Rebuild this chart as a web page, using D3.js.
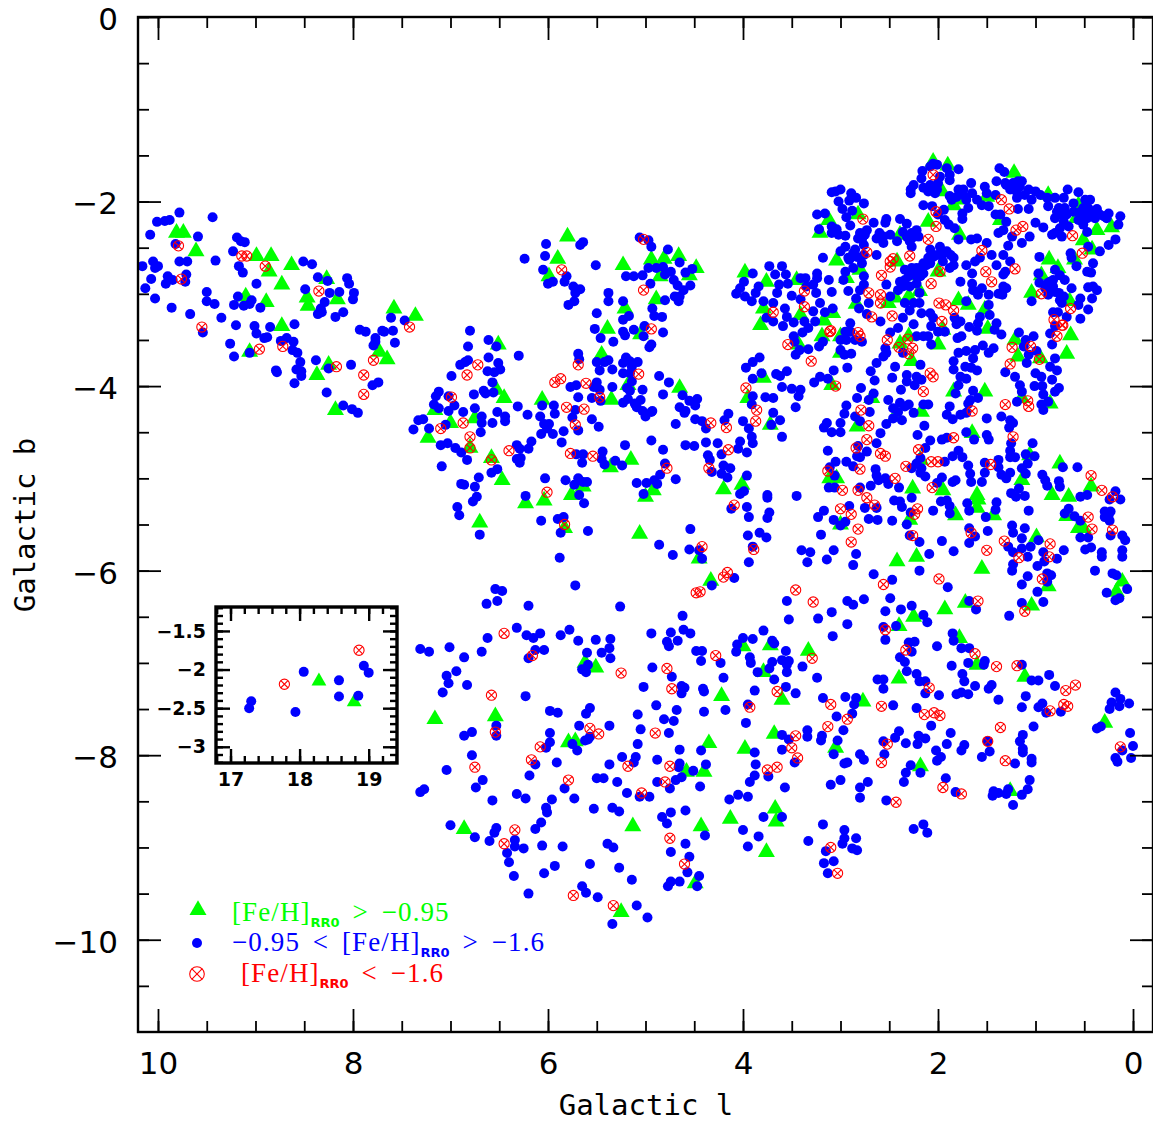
<!DOCTYPE html>
<html>
<head>
<meta charset="utf-8">
<title>Galactic l, b</title>
<script src="https://cdn.jsdelivr.net/npm/d3@7"></script>
<style>
body { margin: 0; background: #fff; }
svg { display: block; }
</style>
</head>
<body>
<div id="chart"></div>
<script>
// Tick values
var xTicks = [10, 8, 6, 4, 2, 0];
var xMinor = [10, 9.5, 9, 8.5, 8, 7.5, 7, 6.5, 6, 5.5, 5, 4.5, 4, 3.5, 3, 2.5, 2, 1.5, 1, 0.5, 0];
var yTicks = [0, -2, -4, -6, -8, -10];
var yMinor = [0, -0.5, -1, -1.5, -2, -2.5, -3, -3.5, -4, -4.5, -5, -5.5, -6, -6.5, -7, -7.5, -8, -8.5, -9, -9.5, -10, -10.5];
var insetXTicks = [17, 18, 19];
var insetXMinor = [16.8, 17, 17.2, 17.4, 17.6, 17.8, 18, 18.2, 18.4, 18.6, 18.8, 19, 19.2, 19.4];
var insetYTicks = [-1.5, -2, -2.5, -3];
var insetYMinor = [-1.2, -1.3, -1.4, -1.5, -1.6, -1.7, -1.8, -1.9, -2, -2.1, -2.2, -2.3, -2.4, -2.5, -2.6, -2.7, -2.8, -2.9, -3, -3.1, -3.2];

// Metal rich RR0 stars [l, b]
var greenLeft = [[9.81,-2.34],[9.74,-2.34],[9.61,-2.54],[8.99,-2.59],[8.84,-2.59],[8.86,-2.76],[8.63,-2.69],[8.73,-2.90],[8.27,-2.84],[8.47,-3.04],[8.46,-3.13],[8.16,-3.06],[9.10,-3.03],[8.89,-3.09],[8.73,-3.35],[9.06,-3.63],[8.25,-3.77],[8.37,-3.88],[8.18,-4.26],[7.73,-3.63],[7.65,-3.71],[7.58,-3.16],[7.36,-3.24]];
var greenMiddle = [[6.51,-3.55],[6.53,-4.04],[6.45,-4.13],[7.16,-4.26],[7.00,-4.40],[6.75,-4.35],[6.80,-4.67],[7.23,-4.56],[6.58,-4.78],[6.47,-5.02],[6.23,-5.27],[6.04,-5.24],[5.76,-5.18],[5.64,-5.09],[6.70,-5.48],[5.83,-5.54],[6.06,-4.15],[5.80,-2.38],[5.90,-2.62],[5.99,-2.81],[5.39,-3.38],[5.45,-3.66],[5.35,-4.15],[5.36,-4.88],[5.15,-4.80],[5.23,-2.69],[4.94,-2.63],[4.81,-2.62],[4.66,-2.59],[4.48,-2.72],[4.85,-2.81],[4.55,-2.80],[4.89,-3.06],[5.21,-3.16],[5.05,-3.44],[5.18,-3.99],[4.65,-4.02],[4.92,-5.13],[5.00,-5.20],[5.06,-5.60],[4.45,-5.87],[4.33,-6.11]];
var greenUpper = [[3.98,-2.77],[3.76,-2.87],[3.45,-2.85],[3.79,-3.16],[3.82,-3.34],[3.41,-3.23],[3.17,-3.29],[3.08,-3.21],[3.19,-3.46],[3.00,-3.46],[3.43,-3.55],[3.21,-2.34],[3.12,-2.20],[2.82,-2.14],[3.04,-2.64],[2.80,-2.74],[2.94,-2.83],[2.84,-3.11],[2.51,-3.10],[2.44,-3.04],[2.30,-3.03],[2.19,-2.97],[2.42,-2.65],[2.27,-2.80],[2.00,-2.76],[2.39,-2.36],[2.10,-2.22],[1.78,-2.36],[1.96,-1.89],[2.05,-1.57],[1.90,-1.61],[1.84,-2.04],[1.76,-1.98],[1.36,-2.20],[1.22,-1.69],[0.87,-1.93],[1.50,-1.95],[0.56,-2.04],[0.22,-2.28],[0.37,-2.31],[0.58,-2.18],[0.51,-2.42],[0.42,-2.52],[0.60,-2.63],[0.86,-2.63],[0.77,-2.72],[0.94,-2.80],[1.04,-2.99],[0.65,-3.08],[0.64,-3.45],[0.68,-3.65],[1.21,-3.50],[1.18,-3.68],[0.95,-3.70],[1.79,-3.07],[1.69,-3.12],[1.52,-3.17],[1.49,-3.38],[1.95,-3.39],[2.00,-3.55],[2.27,-3.73],[2.30,-3.46],[2.39,-3.54],[3.00,-3.64],[3.79,-3.91],[3.95,-4.13],[3.72,-4.42],[3.09,-3.99],[1.84,-4.06],[1.52,-4.06],[1.14,-4.13],[0.85,-4.19],[2.68,-4.13],[2.17,-4.28],[2.44,-4.33],[2.83,-4.44],[1.65,-4.51]];
var greenRight = [[4.20,-5.12],[4.01,-5.07],[3.11,-5.00],[3.04,-5.00],[3.00,-5.50],[2.26,-5.11],[2.18,-4.80],[1.95,-5.13],[1.60,-5.18],[1.59,-5.23],[1.60,-5.32],[1.82,-5.40],[2.29,-5.45],[1.43,-5.40],[1.14,-5.02],[1.06,-4.75],[0.75,-4.84],[0.43,-5.09],[0.83,-5.18],[0.66,-5.20],[0.68,-5.41],[0.56,-5.54],[0.51,-5.54],[0.99,-5.64],[2.42,-5.90],[2.22,-5.85],[1.55,-5.98],[0.87,-6.17],[0.11,-6.12],[0.17,-6.23],[1.93,-6.42],[1.72,-6.35],[1.04,-6.38],[2.25,-6.50],[2.40,-6.60]];
var greenLower = [[7.16,-7.61],[6.54,-7.58],[6.86,-8.80],[5.62,-7.00],[5.51,-7.05],[5.79,-7.86],[5.72,-7.85],[5.13,-8.77],[5.25,-9.70],[4.58,-8.18],[4.40,-8.18],[4.35,-7.87],[4.43,-8.77],[4.49,-9.39],[4.22,-7.36],[4.00,-6.82],[3.72,-6.81],[3.79,-7.10],[3.60,-7.40],[3.68,-7.77],[3.98,-7.93],[4.13,-8.69],[3.67,-8.58],[3.66,-8.72],[3.76,-9.05],[3.33,-6.87],[3.05,-7.92],[2.77,-7.42],[2.40,-7.17],[2.18,-8.12],[1.78,-6.73],[1.60,-7.02],[1.11,-7.15],[1.26,-8.39],[0.29,-7.65]];

// Intermediate RR0 stars [l, b]
var blueLeft = [[10.16,-2.70],[10.13,-2.94],[10.08,-2.36],[10.07,-2.84],[10.05,-2.65],[10.03,-3.05],[10.01,-2.22],[10.03,-2.72],[10.00,-2.70],[9.93,-2.21],[9.88,-2.20],[9.78,-2.12],[9.92,-2.89],[9.90,-2.81],[9.85,-2.85],[9.86,-3.15],[9.82,-2.46],[9.78,-2.65],[9.70,-2.65],[9.71,-2.79],[9.72,-2.87],[9.67,-3.22],[9.59,-2.38],[9.54,-3.42],[9.50,-2.98],[9.50,-3.08],[9.42,-3.11],[9.44,-2.17],[9.41,-2.64],[9.35,-3.26],[9.23,-2.54],[9.19,-2.39],[9.15,-2.43],[9.11,-2.44],[9.17,-2.70],[9.13,-2.77],[8.99,-2.89],[9.18,-3.03],[9.22,-3.12],[9.12,-3.13],[9.06,-3.11],[9.04,-3.07],[8.95,-3.15],[9.20,-3.34],[9.01,-3.35],[8.99,-3.43],[8.85,-3.36],[9.26,-3.54],[9.22,-3.68],[9.06,-3.64],[8.91,-3.48],[8.88,-3.47],[8.74,-3.51],[8.68,-3.48],[8.61,-3.52],[8.62,-3.61],[8.57,-3.64],[8.54,-3.74],[8.58,-3.82],[8.53,-3.84],[8.53,-3.89],[8.60,-3.97],[8.79,-3.83],[8.78,-3.85],[8.38,-3.72],[8.25,-3.81],[8.02,-3.77],[8.27,-4.07],[8.10,-4.21],[8.01,-4.25],[7.95,-4.29],[8.60,-3.33],[8.51,-2.65],[8.42,-2.68],[8.36,-2.82],[8.26,-2.86],[8.49,-2.95],[8.24,-2.99],[8.14,-2.98],[8.29,-3.09],[8.33,-3.16],[8.32,-3.20],[8.36,-3.22],[8.10,-3.20],[8.18,-3.25],[8.06,-2.83],[8.04,-2.89],[7.99,-2.99],[8.00,-3.06],[7.93,-3.39],[7.87,-3.41],[7.70,-3.40],[7.68,-3.41],[7.59,-3.40],[7.77,-3.48],[7.77,-3.52],[7.79,-3.56],[7.57,-3.53],[7.80,-3.99],[7.74,-3.96],[7.61,-3.26],[7.47,-3.29]];
var blueMiddleWest = [[6.80,-3.40],[6.61,-3.50],[6.53,-3.57],[6.82,-3.57],[6.61,-3.69],[6.51,-3.75],[6.30,-3.67],[6.82,-3.72],[6.85,-3.74],[6.90,-3.77],[6.62,-3.84],[6.55,-3.85],[6.49,-3.82],[6.99,-3.89],[6.57,-3.96],[7.12,-4.06],[7.15,-4.11],[7.02,-4.11],[6.66,-4.05],[6.76,-4.09],[6.64,-4.08],[6.56,-4.07],[7.17,-4.20],[7.12,-4.24],[6.96,-4.21],[7.02,-4.27],[6.87,-4.28],[6.75,-4.24],[6.68,-4.33],[6.52,-4.28],[6.44,-4.33],[6.44,-4.38],[6.57,-4.40],[6.68,-4.40],[6.69,-4.50],[7.33,-4.37],[7.28,-4.36],[7.38,-4.47],[7.22,-4.46],[7.05,-4.42],[6.31,-4.22],[6.21,-4.31],[6.06,-4.21],[6.08,-4.33],[5.94,-4.21],[5.93,-4.30],[6.04,-4.41],[5.99,-4.41],[6.01,-4.46],[6.07,-4.52],[5.95,-4.52],[5.84,-4.49],[5.69,-4.48],[6.17,-4.60],[6.32,-4.64],[6.29,-4.68],[6.20,-4.68],[5.86,-4.61],[7.10,-4.64],[7.03,-4.62],[6.95,-4.67],[6.89,-4.72],[6.83,-4.80],[7.09,-4.87],[6.32,-4.79],[6.28,-4.78],[6.29,-4.83],[6.58,-4.94],[6.52,-4.90],[6.71,-4.99],[6.89,-5.06],[6.86,-5.07],[6.75,-5.09],[6.73,-5.20],[6.77,-5.25],[6.93,-5.31],[6.91,-5.40],[6.70,-5.61],[6.23,-5.19],[6.03,-5.00],[5.82,-5.02],[6.07,-5.46],[5.90,-5.44],[5.84,-5.42],[5.87,-5.59],[5.88,-5.86],[5.59,-5.57]];
var blueMiddleEast = [[6.24,-2.62],[6.02,-2.46],[6.03,-2.59],[6.05,-2.74],[5.64,-2.44],[5.67,-2.47],[5.51,-2.69],[6.00,-2.89],[5.95,-2.87],[5.81,-2.81],[5.83,-2.87],[5.74,-2.92],[5.67,-2.95],[5.72,-2.99],[5.73,-3.08],[5.79,-3.12],[5.38,-2.99],[5.38,-3.08],[5.50,-3.21],[5.52,-3.38],[5.46,-3.48],[5.33,-3.52],[5.69,-3.65],[5.68,-3.71],[5.50,-3.74],[5.42,-3.74],[5.38,-3.72],[5.47,-3.83],[5.34,-3.82],[5.50,-3.96],[5.53,-4.01],[5.47,-4.04],[5.34,-4.01],[5.55,-4.13],[5.46,-4.16],[5.77,-4.01],[5.71,-3.99],[5.69,-4.12],[5.72,-4.26],[5.75,-4.34],[5.55,-4.36],[5.48,-4.44],[5.71,-4.74],[5.64,-4.74],[5.65,-4.83],[5.44,-4.71],[5.45,-4.79],[5.42,-4.85],[5.31,-4.81],[5.24,-4.86],[5.21,-4.64],[5.69,-5.00],[5.64,-5.04],[5.73,-5.07],[5.60,-5.04],[5.68,-5.18],[5.63,-5.27],
  [5.06,-2.39],[4.97,-2.42],[4.94,-2.49],[4.77,-2.52],[4.97,-2.72],[4.89,-2.72],[4.82,-2.71],[4.80,-2.79],[4.74,-2.76],[4.65,-2.66],[5.03,-2.80],[5.12,-2.81],[5.20,-2.81],[4.95,-2.89],[4.71,-2.85],[4.67,-2.91],[4.61,-2.96],[4.54,-2.91],[4.59,-2.77],[4.52,-2.73],[4.80,-3.07],[4.70,-3.03],[4.65,-3.03],[4.66,-3.08],[5.23,-3.08],[4.93,-3.16],[4.91,-3.24],[4.83,-3.25],[5.17,-3.24],[5.23,-3.28],[5.12,-3.39],[5.23,-3.41],[5.21,-3.45],[5.01,-3.35],[5.02,-3.46],[4.82,-3.42],[4.94,-3.55],[4.96,-3.58],[5.20,-3.69],[5.23,-3.75],[5.16,-3.73],[5.08,-3.74],[5.14,-3.79],[5.23,-3.86],[5.16,-3.86],[4.86,-3.89],[4.76,-3.96],[5.14,-3.95],[5.03,-4.04],[5.19,-4.02],[5.16,-4.05],[4.82,-4.09],[4.62,-4.10],[4.55,-4.16],[4.47,-4.14],[4.49,-4.21],[4.65,-4.23],[4.59,-4.27],[5.23,-4.18],[5.18,-4.14],[5.05,-4.15],[5.11,-4.19],[5.09,-4.23],[5.03,-4.27],[4.93,-4.27],
  [5.00,-4.33],[4.94,-4.28],[4.69,-4.41],[4.60,-4.29],[4.49,-4.36],[4.42,-4.38],[4.38,-4.46],[4.15,-4.30],[4.19,-4.37],[4.94,-4.59],[4.82,-4.69],[4.59,-4.64],[4.50,-4.65],[4.38,-4.61],[4.26,-4.62],[4.22,-4.74],[4.36,-4.75],[4.34,-4.80],[4.80,-4.84],[4.85,-4.96],[4.69,-5.01],[5.09,-5.05],[4.99,-5.05],[4.91,-5.02],[4.88,-5.06],[5.02,-5.17],[4.32,-4.93],[4.20,-4.86],[4.13,-4.89],[4.22,-4.95],[4.16,-4.99],[4.12,-5.33],[4.54,-5.55],[4.86,-5.72],[4.72,-5.83],[4.55,-5.77],[4.45,-5.78],[4.42,-5.87],[4.09,-6.08],[4.32,-6.16]];
var blueUpperEast = [[2.05,-1.59],[2.01,-1.60],[2.08,-1.62],[2.16,-1.67],[1.91,-1.64],[1.79,-1.65],[1.88,-1.71],[2.17,-1.75],[1.98,-1.73],[1.88,-1.77],[2.25,-1.82],[2.08,-1.82],[2.00,-1.80],[2.28,-1.87],[2.28,-1.91],[2.15,-1.85],[2.03,-1.91],[2.10,-1.89],[1.88,-1.94],[1.79,-1.87],[1.74,-1.87],[1.66,-1.80],[1.65,-1.91],[1.86,-1.98],[1.71,-1.98],[1.60,-1.98],[1.48,-2.05],[1.55,-2.04],[1.69,-2.07],[2.15,-2.04],[2.06,-2.05],[1.94,-2.09],[2.00,-2.14],[1.75,-2.13],[1.75,-2.19],[1.93,-2.20],[1.89,-2.25],[1.83,-2.29],[1.52,-1.84],[1.50,-1.91],[1.40,-1.78],[1.31,-1.80],[1.37,-1.64],[1.32,-1.68],[1.41,-1.93],[1.23,-1.80],[1.18,-1.78],[1.14,-1.78],[1.19,-1.87],[1.26,-1.87],[1.11,-1.93],[1.19,-1.96],[1.00,-1.89],[1.04,-1.98],[0.95,-1.93],[0.88,-1.96],[0.80,-1.96],[0.71,-1.96],[0.67,-1.87],[0.56,-1.90],[0.49,-1.98],[0.44,-1.98],[0.61,-2.02],[0.87,-2.05],[0.76,-2.07],[0.70,-2.07],[0.46,-2.07],[0.37,-2.08],[0.54,-2.11],[0.25,-2.13],[0.13,-2.16],[0.27,-2.18],[0.47,-2.18],[0.39,-2.18],[0.75,-2.14],[0.80,-2.18],[0.71,-2.22],[0.15,-2.25],[0.51,-2.25],[0.75,-2.29],[0.66,-2.27],[0.80,-2.34],[0.83,-2.36],[0.73,-2.38],[0.47,-2.33],[0.18,-2.41],[0.25,-2.47],[0.34,-2.54],[0.46,-2.49],[0.64,-2.56],[0.63,-2.61],[0.58,-2.70],[0.41,-2.67],[0.47,-2.76],[0.43,-2.77],[0.46,-2.93],[0.41,-2.92],[0.37,-2.96],[0.42,-3.05],[0.54,-3.05],[0.56,-3.12],[0.46,-3.17],[0.54,-3.27],[0.63,-2.94],
  [0.96,-2.60],[0.97,-2.78],[0.80,-2.74],[0.70,-2.85],[0.75,-2.80],[0.85,-2.87],[0.96,-2.88],[0.90,-2.94],[0.82,-2.92],[0.87,-3.01],[0.76,-2.99],[1.04,-3.08],[0.73,-3.10],[0.82,-3.20],[0.77,-3.20],[0.68,-3.25],[0.80,-3.35],[0.85,-3.43],[0.83,-3.55],[1.17,-3.42],[1.02,-3.46],[1.10,-3.50],[1.12,-3.57],[0.99,-3.62],[1.07,-3.66],[1.09,-3.75],[0.80,-3.70],[0.85,-3.79],[0.78,-3.83],[1.00,-3.86],[0.94,-3.90],[0.83,-3.93],[1.31,-3.85],[1.21,-3.90],[1.16,-3.99],[1.14,-4.06],[1.01,-4.00],[0.93,-4.00],[0.92,-4.09],[0.76,-4.02],[0.80,-4.06],[1.19,-4.17],[0.94,-4.20],[0.87,-4.17],[0.92,-4.26]];
var blueDense = [[0.44,-2.13],[0.41,-2.11],[0.78,-2.11],[0.73,-2.11],[0.68,-2.14],[0.51,-2.07],[0.34,-2.14],[0.30,-2.16],[0.51,-2.14],[0.56,-2.20],[0.61,-2.11],[1.16,-1.84],[1.07,-1.87],[1.23,-1.87],[1.18,-1.93],[1.30,-1.82],[1.74,-1.93],[1.81,-1.95],[2.01,-1.87],[2.27,-2.78],[2.22,-2.72],[2.12,-2.69],[2.05,-2.60],[2.18,-2.81],[2.34,-2.85],[2.32,-2.38],[2.24,-2.34],[2.27,-2.40],[2.60,-2.40],[2.56,-2.38],[2.80,-2.34],[2.75,-2.36],[2.78,-2.41],[2.87,-2.56],[2.91,-2.63],[2.83,-2.60],[0.87,-2.88],[0.82,-2.85],[0.87,-2.94],[0.80,-2.98],[0.75,-3.07],[0.71,-3.03]];
var blueUpperCentre = [[1.38,-2.34],[1.33,-2.31],[1.24,-2.38],[1.06,-2.38],[1.07,-2.08],[1.18,-2.08],[1.00,-2.23],[0.92,-2.28],[1.14,-2.45],[1.28,-2.48],[1.41,-2.14],[1.36,-2.14],[1.30,-2.22],[1.33,-2.58],[1.26,-2.65],[1.45,-2.58],[1.50,-2.45],[1.60,-2.40],[1.66,-2.41],[1.79,-2.41],[1.71,-2.69],[1.57,-2.61],[1.62,-2.65],[1.40,-2.69],[1.31,-2.76],[1.33,-2.79],[1.77,-2.87],[1.65,-2.78],[1.65,-2.89],[1.64,-2.96],[1.55,-2.94],[1.59,-3.01],[1.48,-3.01],[1.33,-2.92],[1.30,-2.94],[1.38,-3.00],[1.34,-3.01],[1.71,-3.08],[1.48,-3.12],[1.47,-3.23],[1.57,-3.25],[1.59,-3.32],[1.60,-3.40],[1.40,-3.32],[1.42,-3.39],[1.35,-3.44],[1.68,-3.36],[1.83,-3.26],[1.77,-3.30],[1.81,-3.33],[1.76,-3.46],[1.80,-3.48],[1.54,-3.56],[1.43,-3.59],[1.48,-3.64],[1.62,-3.61],[1.71,-3.62],[1.79,-3.64],[1.84,-3.73],[1.64,-3.70],[1.72,-3.79],[1.84,-3.82],[1.66,-3.80],[1.60,-3.83],[1.77,-3.90],[1.71,-3.92],[1.79,-3.99],[1.82,-4.08],[1.64,-4.05],[1.67,-4.15],[1.59,-4.13],[1.69,-4.19],[1.88,-4.22],[1.91,-4.31],[1.85,-4.36],[1.77,-4.31],[1.71,-4.29],[1.50,-4.35],[1.35,-4.33],[1.26,-4.37],[1.23,-4.40],[1.27,-4.45],
  [2.39,-2.19],[2.32,-2.24],[2.22,-2.31],[2.36,-2.33],[2.27,-2.34],[2.20,-2.38],[2.29,-2.43],[2.42,-2.43],[2.27,-2.49],[2.08,-2.52],[1.98,-2.49],[1.96,-2.58],[2.10,-2.61],[2.01,-2.58],[1.91,-2.54],[1.87,-2.58],[1.84,-2.61],[1.95,-2.65],[2.15,-2.67],[2.08,-2.67],[1.84,-2.69],[1.88,-2.72],[2.27,-2.72],[2.34,-2.74],[2.18,-2.72],[2.15,-2.78],[2.22,-2.81],[2.39,-2.87],[2.30,-2.81],[2.36,-2.92],[2.29,-2.92],[2.41,-2.96],[2.22,-2.89],[2.19,-2.99],[2.49,-3.03],[2.34,-3.10],[2.25,-3.10],[2.19,-3.10],[2.17,-3.21],[2.29,-3.18],[2.08,-3.21],[2.36,-3.26],[2.05,-3.26],[2.07,-3.35],[2.00,-3.41],[1.93,-3.41],[2.25,-3.33],[2.41,-3.37],[2.49,-3.42],[2.22,-3.46],[2.15,-3.46],[2.10,-3.46],[2.07,-3.55],[2.54,-3.59],[2.53,-3.64],[2.56,-3.68],[2.63,-3.75],[2.36,-3.64],[2.44,-3.79],[2.18,-3.77],[2.69,-3.84],[2.65,-3.94],[2.32,-3.88],[2.47,-3.91],[2.22,-3.90],[2.17,-3.93],[2.32,-3.95],[2.24,-3.99],[2.38,-4.04],[2.79,-4.02],[2.66,-4.08],[2.51,-4.15],[2.39,-4.18],[2.34,-4.22],[2.46,-4.24],[2.30,-4.20],[2.10,-4.20],[2.15,-4.20],[2.94,-4.21],[2.83,-4.13],[2.71,-4.15],[2.70,-4.28],[2.96,-4.30],[2.85,-4.33],[2.25,-4.29],[2.41,-4.28],[2.46,-4.35],[2.37,-4.37],[2.53,-4.41],[3.14,-4.40],[3.17,-4.45],[3.09,-4.50],[3.00,-4.40],[3.00,-4.50],[2.80,-4.38],[2.59,-4.51],[2.14,-4.43],[2.21,-4.53]];
var blueUpperWest = [[3.09,-1.90],[3.05,-1.89],[3.00,-1.87],[3.02,-2.00],[2.89,-1.91],[2.91,-1.99],[2.84,-1.96],[2.76,-2.02],[2.98,-2.08],[2.88,-2.10],[2.94,-2.17],[3.24,-2.14],[3.16,-2.13],[3.22,-2.30],[3.09,-2.27],[3.04,-2.30],[2.90,-2.26],[3.09,-2.34],[3.02,-2.36],[2.95,-2.37],[2.66,-2.23],[2.53,-2.19],[2.54,-2.23],[2.78,-2.38],[2.82,-2.40],[2.73,-2.31],[2.60,-2.34],[2.63,-2.40],[2.56,-2.45],[2.49,-2.36],[2.76,-2.47],[2.95,-2.49],[3.00,-2.54],[2.85,-2.52],[2.92,-2.61],[2.76,-2.58],[3.18,-2.61],[2.63,-2.58],[2.78,-2.67],[2.87,-2.72],[2.95,-2.76],[2.76,-2.81],[2.97,-2.85],[2.76,-2.90],[3.24,-2.78],[3.24,-2.83],[3.12,-2.85],[2.92,-2.97],[3.09,-2.98],[2.80,-2.96],[2.84,-3.05],[2.71,-3.10],[2.81,-3.16],[2.73,-3.22],[2.53,-2.90],[2.59,-3.30],[2.90,-3.32],
  [3.73,-2.70],[3.60,-2.70],[3.90,-2.78],[3.67,-2.79],[3.56,-2.79],[3.99,-2.87],[4.03,-2.94],[4.07,-3.00],[3.98,-3.03],[3.91,-3.08],[3.87,-2.99],[3.79,-3.08],[3.84,-2.92],[3.63,-2.90],[3.65,-2.99],[3.54,-2.89],[3.50,-3.02],[3.41,-2.83],[3.36,-2.83],[3.35,-2.92],[3.28,-2.90],[3.25,-2.99],[3.41,-3.06],[3.57,-3.16],[3.69,-3.10],[3.76,-3.26],[3.69,-3.30],[3.55,-3.25],[3.48,-3.31],[3.59,-3.35],[3.28,-3.19],[3.26,-3.30],[3.37,-3.30],[3.33,-3.37],[3.39,-3.42],[3.48,-3.46],[3.47,-3.52],[3.21,-3.10],[3.08,-3.16],[3.16,-3.20],[3.22,-3.57],[3.18,-3.52],[3.42,-3.61],[3.33,-3.60],[3.46,-3.66],[3.00,-3.61],[2.96,-3.66],[2.89,-3.65],[3.00,-3.50],[2.95,-3.41],[2.90,-3.41],[2.94,-3.50],[2.85,-3.50],[2.78,-3.52],[3.83,-3.69],[3.90,-3.74],[3.97,-3.80],[3.81,-3.86],[3.90,-3.92],[3.66,-3.87],[3.62,-3.89],[3.55,-3.84],[3.60,-4.01],[3.50,-4.03],[3.41,-4.04],[3.43,-4.11],[3.46,-4.23],[3.77,-4.12],[3.69,-4.13],[3.90,-4.11],[3.91,-4.20],[3.69,-4.29],[3.62,-4.37],[3.71,-4.42],[4.00,-4.38],[3.94,-4.46],[3.60,-4.55],[3.91,-4.55],[3.07,-3.83],[2.93,-3.80],[3.21,-3.90],[3.27,-3.96],[3.13,-3.92]];
var blueCentral = [[4.03,-4.60],[4.05,-4.68],[3.90,-4.62],[3.96,-4.72],[3.96,-4.97],[4.03,-5.17],[3.99,-5.14],[3.75,-5.18],[3.75,-5.21],[3.45,-5.19],[3.96,-5.31],[3.73,-5.37],[3.75,-5.43],[3.94,-5.42],[3.95,-5.62],[3.83,-5.59],[3.76,-5.64],[3.90,-5.74],[3.94,-5.91],[3.13,-4.70],[3.05,-4.82],[2.94,-4.82],[2.87,-4.87],[3.11,-4.88],[3.06,-4.97],[3.12,-5.10],[3.06,-5.10],[2.82,-4.65],[2.83,-4.76],[2.80,-4.77],[2.73,-4.71],[2.63,-4.62],[2.64,-4.90],[2.63,-4.97],[2.54,-5.00],[2.61,-5.02],[2.51,-5.06],[2.40,-5.10],[2.69,-5.08],[2.80,-5.10],[2.75,-5.32],[2.63,-5.32],[2.91,-5.30],[3.17,-5.35],[3.23,-5.42],[3.07,-5.45],[2.95,-5.47],[3.00,-5.51],[2.71,-5.44],[2.62,-5.45],[2.47,-5.46],[2.32,-5.50],[2.27,-5.21],[2.45,-5.24],[2.39,-5.25],[2.37,-5.31],[2.28,-5.37],[2.05,-5.35],[3.20,-5.61],[2.29,-5.62],[2.19,-5.69],[1.96,-5.68],[3.40,-5.78],[3.31,-5.80],[3.07,-5.78],[2.84,-5.82],[3.34,-5.91],[3.14,-5.88],[2.87,-5.94],[2.09,-5.82],[1.84,-5.79],
  [2.08,-4.59],[2.13,-4.67],[2.18,-4.78],[2.22,-4.84],[2.17,-4.89],[2.27,-4.89],[2.18,-4.94],[2.13,-4.98],[2.01,-5.05],[1.96,-4.99],[1.85,-5.04],[1.82,-5.02],[1.93,-4.82],[1.85,-4.76],[1.79,-4.70],[1.75,-4.77],[1.69,-4.86],[1.67,-4.95],[1.66,-5.04],[1.55,-5.04],[1.96,-4.58],[1.91,-4.56],[1.71,-4.50],[1.63,-4.58],[1.50,-4.53],[1.48,-4.58],[1.25,-4.62],[1.03,-4.62],[1.26,-4.70],[1.21,-4.77],[1.26,-4.77],[1.10,-4.74],[1.01,-4.76],[1.08,-4.84],[1.14,-4.89],[1.10,-4.95],[1.52,-4.83],[1.38,-4.80],[1.38,-4.88],[1.52,-4.94],[1.35,-4.96],[1.26,-4.94],[1.30,-5.00],[1.97,-5.25],[1.91,-5.24],[1.88,-5.30],[1.88,-5.38],[1.70,-5.27],[1.68,-5.35],[1.40,-5.26],[1.41,-5.34],[1.51,-5.42],[1.25,-5.16],[1.20,-5.20],[1.11,-5.19],[1.17,-5.11],[1.07,-5.35],[1.68,-5.54],[1.62,-5.63],[1.49,-5.57],[1.68,-5.70],[1.24,-5.51],[1.23,-5.59],[1.11,-5.54],[1.14,-5.65],[0.97,-5.67],[1.28,-5.74],[1.23,-5.80],[1.14,-5.76],[1.05,-5.74],[1.08,-5.85],[0.92,-5.80],[0.91,-5.90],[0.98,-5.95],[0.78,-5.87],[0.71,-5.78],[1.23,-5.93],[1.24,-6.00],[1.14,-6.15],[1.08,-6.06],[0.88,-6.03],[0.84,-6.05],[0.88,-6.12],[0.98,-6.23],[1.14,-6.35],[0.92,-6.34]];
var blueEastEdge = [[0.93,-4.96],[0.90,-5.02],[0.88,-5.08],[0.76,-5.03],[0.75,-5.09],[0.72,-4.88],[0.57,-4.88],[0.54,-5.20],[0.47,-5.18],[0.70,-5.38],[0.66,-5.33],[0.60,-5.41],[0.54,-5.46],[0.54,-5.64],[0.46,-5.64],[0.49,-5.77],[0.43,-5.75],[0.32,-5.80],[0.32,-5.85],[0.23,-5.62],[0.25,-5.40],[0.29,-5.36],[0.23,-5.36],[0.29,-5.42],[0.24,-5.46],[0.24,-5.23],[0.18,-5.14],[0.13,-5.23],[0.11,-5.62],[0.08,-5.67],[0.11,-5.78],[0.11,-5.85],[0.39,-6.00],[0.21,-6.03],[0.17,-6.05],[0.27,-6.24],[0.18,-6.32],[0.14,-6.30],[0.06,-6.20],[2.66,-6.04],[2.47,-6.10],[2.19,-6.00],[1.90,-6.18],[2.49,-6.30],[2.76,-6.31],[2.93,-6.33],[2.87,-6.37],[3.09,-6.45],[3.55,-6.33],[3.53,-6.53],[3.23,-6.52],[2.54,-6.44],[2.38,-6.42],[2.27,-6.38],[2.15,-6.48],[1.68,-6.33],[1.61,-6.42],[1.27,-6.49]];
var blueLowerWest = [[5.72,-6.16],[6.54,-6.20],[6.47,-6.22],[6.52,-6.33],[6.63,-6.36],[6.20,-6.38],[5.26,-6.39],[4.62,-6.49],[6.32,-6.62],[6.62,-6.73],[6.22,-6.70],[6.15,-6.73],[6.08,-6.68],[5.87,-6.70],[5.78,-6.64],[5.69,-6.76],[5.51,-6.75],[5.36,-6.74],[4.94,-6.68],[4.74,-6.67],[4.61,-6.64],[4.54,-6.68],[4.78,-6.77],[4.76,-6.82],[4.67,-6.76],[7.31,-6.85],[7.22,-6.88],[7.01,-6.83],[6.86,-6.94],[6.68,-6.88],[6.13,-6.86],[6.04,-6.86],[6.20,-6.95],[5.60,-6.89],[5.45,-6.89],[5.37,-6.84],[5.36,-6.95],[4.48,-6.87],[4.42,-6.87],[4.43,-6.98],[6.94,-7.09],[7.04,-7.14],[7.02,-7.22],[6.83,-7.24],[7.08,-7.32],[6.23,-7.36],[5.59,-7.02],[5.65,-7.07],[5.61,-7.10],[4.93,-7.05],[4.73,-7.15],[5.02,-7.26],[4.63,-7.25],[4.60,-7.27],[4.63,-7.33],[4.41,-7.28],[4.40,-7.31],[4.23,-7.00],[4.20,-7.16],[4.89,-7.46],[4.68,-7.51],[4.40,-7.53],[4.18,-7.51],[5.08,-7.56],[4.81,-7.61],[4.71,-7.63],[3.97,-7.65],[3.95,-7.45],[3.88,-7.30],[3.56,-7.26],[3.46,-7.33],[4.00,-6.73],[4.06,-6.80],[4.07,-6.88],[3.90,-6.74],[3.79,-6.65],[3.70,-6.76],[3.68,-6.79],[3.56,-6.87],[3.93,-6.94],[3.92,-7.00],[3.85,-7.10],[3.73,-7.06],[3.70,-6.99],[3.60,-6.97],[3.53,-6.98],[3.55,-7.02],[3.55,-7.10],[3.68,-7.18],
  [5.98,-7.52],[5.90,-7.54],[5.57,-7.49],[5.61,-7.55],[5.68,-7.68],[5.37,-7.68],[6.53,-7.68],[6.53,-7.79],[6.86,-7.79],[6.78,-7.75],[5.98,-7.76],[5.98,-7.86],[6.02,-7.92],[5.75,-7.88],[5.70,-7.95],[5.62,-7.84],[5.59,-7.83],[5.57,-7.80],[5.05,-7.72],[4.76,-7.76],[5.08,-7.88],[5.24,-8.02],[5.10,-8.02],[5.12,-8.08],[5.37,-8.10],[4.88,-8.05],[4.65,-7.94],[4.43,-7.95],[4.65,-8.09],[4.66,-8.13],[4.38,-8.10],[4.51,-8.17],[6.78,-8.00],[7.04,-8.16],[6.13,-8.10],[5.91,-8.08],[6.19,-8.22],[6.67,-8.27],[6.74,-8.35],[7.31,-8.40],[7.27,-8.37],[6.57,-8.49],[6.32,-8.42],[6.23,-8.47],[5.96,-8.48],[5.83,-8.36],[5.73,-8.47],[5.50,-8.25],[5.43,-8.25],[5.29,-8.29],[5.19,-8.41],[5.06,-8.45],[4.96,-8.45],[4.88,-8.29],[4.75,-8.36],[4.69,-8.27],[4.63,-8.24],[4.44,-8.34],[6.02,-8.57],[6.01,-8.62],[5.53,-8.58],[5.34,-8.57],[5.27,-8.61],[6.07,-8.73],[6.13,-8.80],[4.83,-8.67],[4.74,-8.62],[4.59,-8.60],[4.78,-8.74],[7.00,-8.76],[6.75,-8.89],[6.60,-8.93],[6.55,-8.84],[6.53,-8.79],[6.34,-8.92],[6.34,-8.99],[6.25,-9.01],[6.42,-9.06],[6.06,-8.98],[5.85,-8.99],[5.39,-8.96],[5.33,-9.00],[6.40,-9.16],[6.35,-9.31],[5.93,-9.20],[6.04,-9.28],[5.57,-9.18],[5.27,-9.22],[5.14,-9.35],[5.65,-9.42],[5.61,-9.49],[6.20,-9.50],[5.49,-9.54],[5.09,-9.63],[4.98,-9.76],[5.34,-9.83],[4.39,-8.87],[4.59,-8.96],[4.74,-9.05],[4.55,-9.10],[4.57,-9.27],[4.45,-9.31],[4.65,-9.37],[4.74,-9.37],[4.77,-9.42],[4.47,-9.42],[4.14,-8.48],[4.05,-8.43],[3.95,-8.45],[3.88,-8.22],[3.87,-8.10],[3.93,-8.29],[3.74,-8.23],[3.57,-8.35],[3.88,-7.97],[3.60,-7.94],[3.60,-7.78],[3.53,-7.83],[3.47,-8.08],[3.79,-8.67],[3.60,-8.67],[4.00,-8.81],[3.84,-8.88],[3.95,-8.99]];
var blueLowerEast = [[2.93,-6.58],[3.08,-6.71],[2.56,-6.61],[2.43,-6.60],[2.54,-6.75],[2.11,-6.56],[2.24,-6.77],[2.30,-6.78],[2.27,-6.88],[2.39,-6.94],[2.34,-6.99],[2.32,-7.09],[2.01,-6.82],[1.85,-6.68],[1.84,-6.76],[1.76,-6.84],[1.68,-6.84],[1.52,-6.98],[1.53,-7.02],[1.69,-7.00],[1.86,-7.03],[1.75,-7.12],[1.73,-7.20],[1.62,-7.25],[1.45,-7.24],[1.48,-7.28],[1.81,-7.34],[1.76,-7.32],[1.69,-7.34],[1.38,-7.40],[1.14,-7.02],[1.04,-7.19],[0.97,-7.19],[0.86,-7.13],[0.80,-7.25],[1.10,-7.36],[1.14,-7.48],[0.93,-7.44],[0.97,-7.48],[0.89,-7.54],[0.74,-7.53],[1.02,-7.69],[1.13,-7.78],[1.16,-7.85],[1.13,-7.93],[1.13,-7.97],[1.04,-8.04],[1.04,-8.08],[1.21,-8.09],[1.47,-7.96],[1.55,-8.02],[1.49,-7.85],[1.76,-7.95],[1.73,-7.89],[1.91,-7.88],[1.87,-7.76],[2.07,-7.68],[2.13,-7.82],[2.20,-7.79],[2.21,-7.88],[2.33,-7.87],[2.40,-7.74],[2.44,-7.81],[2.56,-7.85],[2.55,-7.99],[2.02,-7.95],[1.97,-8.02],[2.01,-8.06],[2.22,-7.49],[2.13,-7.33],[1.99,-7.35],[2.19,-7.20],[2.22,-7.12],[2.13,-7.20],[2.62,-7.18],[2.56,-7.18],[2.56,-7.28],[2.46,-7.46],[2.95,-7.37],[2.84,-7.38],[2.86,-7.45],[2.88,-7.55],[3.18,-7.38],[3.04,-7.58],[2.97,-7.73],[3.03,-7.84],[3.34,-7.73],[3.34,-7.80],[3.19,-7.79],[3.20,-7.84],[3.07,-7.99],[2.80,-7.99],[2.76,-8.05],[2.96,-8.09],[2.93,-8.08],[3.39,-7.04],[3.24,-7.16],[2.28,-8.11],[2.33,-8.19],[2.35,-8.29],[2.18,-8.19],[2.72,-8.29],[2.80,-8.35],[2.80,-8.46],[3.00,-8.27],[3.10,-8.32],[2.53,-8.49],[1.92,-8.25],[1.82,-8.40],[1.06,-8.27],[1.08,-8.37],[1.14,-8.43],[1.28,-8.37],[1.30,-8.42],[1.38,-8.41],[1.43,-8.39],[1.44,-8.44],[1.23,-8.54],[3.18,-8.75],[3.33,-8.93],[2.96,-8.81],[2.96,-8.90],[2.98,-8.96],[2.84,-8.90],[2.88,-9.01],[2.83,-9.03],[3.15,-9.04],[3.07,-9.15],[3.17,-9.17],[3.13,-9.28],[2.15,-8.75],[2.25,-8.80],[2.11,-8.84],[0.18,-7.32],[0.13,-7.39],[0.22,-7.43],[0.14,-7.47],[0.24,-7.50],[0.04,-7.44],[0.33,-7.69],[0.37,-7.71],[0.03,-7.76],[0.00,-7.90],[0.11,-7.95],[0.18,-8.03],[0.16,-8.07],[0.02,-8.03]];

// Metal poor RR0 stars [l, b]
var redWest = [[9.79,-2.48],[9.76,-2.84],[9.55,-3.36],[9.14,-2.59],[9.09,-2.59],[8.90,-2.70],[8.35,-2.97],[8.96,-3.60],[8.72,-3.57],[8.17,-3.79],[7.89,-3.88],[7.89,-4.09],[7.79,-3.72],[7.42,-3.36],[6.72,-3.77],[6.83,-3.88],[6.99,-4.12],[6.87,-4.40],[7.10,-4.46],[6.80,-4.55],[6.80,-4.67],[6.58,-4.80],[6.40,-4.70],[6.01,-5.15],[5.83,-5.50],[5.86,-2.74],[5.69,-3.77],[5.93,-3.96],[5.87,-3.92],[5.61,-3.97],[5.47,-4.12],[5.81,-4.23],[5.63,-4.25],[5.72,-4.42],[5.77,-4.73],[5.54,-4.76],[5.02,-2.41],[5.02,-2.96],[4.94,-3.38],[5.07,-3.87],[4.33,-4.40],[4.17,-4.45],[4.15,-4.69],[4.78,-4.89],[4.35,-4.89],[4.09,-5.29],[4.42,-5.74]];
var redLower = [[4.48,-6.24],[4.44,-6.23],[4.20,-6.07],[4.16,-6.02],[3.46,-6.21],[6.45,-6.68],[6.16,-6.92],[5.25,-7.11],[6.58,-7.35],[6.54,-7.75],[6.75,-8.13],[5.57,-7.71],[5.48,-7.77],[6.08,-7.91],[6.17,-8.05],[5.79,-8.27],[5.18,-8.12],[4.90,-7.76],[4.75,-8.12],[4.80,-8.29],[5.04,-8.41],[6.34,-8.81],[6.45,-8.96],[5.74,-9.52],[5.33,-9.63],[4.78,-7.06],[4.73,-7.28],[4.28,-6.92],[3.93,-7.48],[3.65,-7.31],[3.75,-8.16],[3.65,-8.13],[4.75,-8.90],[4.60,-9.18],[2.54,-6.64],[2.33,-6.86],[3.29,-6.95],[1.62,-6.90],[1.40,-7.04],[1.19,-7.03],[0.69,-7.30],[0.59,-7.24],[0.71,-7.45],[0.67,-7.47],[0.85,-7.52],[2.09,-7.27],[2.14,-7.56],[2.04,-7.54],[1.98,-7.57],[2.58,-7.47],[3.10,-7.45],[2.93,-7.61],[3.13,-7.69],[1.36,-7.70],[1.49,-7.85],[2.52,-7.88],[2.58,-8.08],[3.46,-7.79],[3.50,-7.92],[3.44,-8.03],[1.31,-8.06],[0.13,-7.91],[1.95,-8.35],[1.76,-8.42],[2.43,-8.51],[3.10,-9.00],[3.03,-9.28]];
var redUpper = [[2.05,-1.71],[1.35,-1.98],[1.27,-2.08],[2.02,-2.11],[2.02,-2.27],[1.13,-2.27],[1.20,-2.31],[2.77,-2.19],[0.62,-2.37],[2.10,-2.41],[0.52,-2.56],[2.73,-2.55],[1.55,-2.53],[2.29,-2.59],[2.46,-2.62],[2.49,-2.65],[2.49,-2.71],[1.21,-2.73],[2.58,-2.80],[1.98,-2.76],[1.51,-2.76],[1.45,-2.87],[2.07,-2.89],[3.37,-2.97],[2.71,-2.99],[2.59,-3.01],[2.59,-3.10],[1.99,-3.10],[1.92,-3.12],[1.84,-3.18],[0.94,-3.00],[3.37,-3.14],[3.69,-3.20],[2.68,-3.25],[2.47,-3.24],[0.64,-3.16],[1.96,-3.30],[0.81,-3.28],[0.73,-3.34],[0.72,-3.34],[0.78,-3.46],[3.10,-3.40],[3.11,-3.41],[2.82,-3.42],[2.80,-3.46],[3.54,-3.55],[2.52,-3.50],[2.31,-3.49],[2.40,-3.58],[2.26,-3.59],[2.30,-3.65],[1.24,-3.58],[1.05,-3.57],[0.96,-3.71],[1.26,-3.76],[3.30,-3.73],[2.08,-3.86],[2.05,-3.90],[3.05,-4.00],[3.97,-4.02],[2.15,-4.06],[1.31,-4.20],[1.08,-4.16],[1.07,-4.22],[1.65,-4.27],[3.86,-4.26],[3.87,-4.38],[2.79,-4.26],[2.71,-4.43],[1.23,-4.55],[1.84,-4.56],[2.73,-4.58]];
var redCentral = [[2.84,-4.67],[2.59,-4.73],[2.54,-4.76],[2.20,-4.69],[2.33,-4.87],[2.07,-4.82],[2.00,-4.82],[1.46,-4.85],[3.13,-4.92],[2.80,-4.90],[2.44,-5.00],[2.06,-5.10],[2.98,-5.13],[2.82,-5.13],[2.73,-5.21],[2.65,-5.29],[3.00,-5.33],[2.89,-5.39],[2.21,-5.33],[2.24,-5.39],[0.43,-4.97],[0.32,-5.13],[0.21,-5.20],[0.46,-5.42],[0.42,-5.55],[0.21,-5.56],[2.82,-5.55],[2.89,-5.69],[2.26,-5.62],[1.66,-5.59],[1.32,-5.68],[1.50,-5.78],[0.85,-5.71],[0.86,-5.85],[1.17,-5.86],[0.93,-6.09],[3.89,-5.77],[1.99,-6.09],[2.56,-6.15],[3.28,-6.34],[1.59,-6.33],[1.11,-6.44]];

// Inset panel stars [l, b]
var insetGreen = [[18.28,-2.15],[18.79,-2.42]];
var insetBlue = [[17.30,-2.41],[17.27,-2.50],[17.94,-2.55],[18.06,-2.03],[18.57,-2.14],[18.57,-2.35],[18.85,-2.34],[18.93,-1.95],[19.00,-2.04]];
var insetRed = [[17.78,-2.19],[18.86,-1.75]];

var greenStars = d3.merge([greenLeft, greenMiddle, greenUpper, greenRight, greenLower]);
var blueStars = d3.merge([blueLeft, blueMiddleWest, blueMiddleEast, blueUpperEast, blueDense, blueUpperCentre, blueUpperWest, blueCentral, blueEastEdge, blueLowerWest, blueLowerEast]);
var redStars = d3.merge([redWest, redLower, redUpper, redCentral]);

var svg = d3.select("#chart").append("svg")
    .attr("width", 1153)
    .attr("height", 1126);

var triangle = d3.symbol(d3.symbolTriangle, 125);
var times = d3.symbol(d3.symbolTimes, 34);

function plotStars(g, x, y, greens, blues, reds, inset) {
    g.selectAll(".g").data(greens).join("path")
        .attr("class", "g")
        .attr("d", inset ? d3.symbol(d3.symbolTriangle, 95) : triangle)
        .attr("fill", "#00ff00")
        .attr("transform", d => `translate(${x(d[0])},${y(d[1])})`);

    g.selectAll(".b").data(blues).join("circle")
        .attr("class", "b")
        .attr("cx", d => x(d[0]))
        .attr("cy", d => y(d[1]))
        .attr("r", 5)
        .attr("fill", "#0000ff");

    var r = g.selectAll(".r").data(reds).join("g")
        .attr("class", "r")
        .attr("transform", d => `translate(${x(d[0])},${y(d[1])})`);
    r.append("circle")
        .attr("r", 5.1)
        .attr("fill", "none")
        .attr("stroke", "#ff0000")
        .attr("stroke-width", 1.1);
    r.append("path")
        .attr("d", times)
        .attr("stroke", "#ff0000")
        .attr("fill", "none")
        .attr("stroke-width", 1.1);
}

// Axis with major and minor ticks on all four sides
function frame(x, y, o) {
    var h = y.range()[0], t = y.range()[1], l = x.range()[0], r = x.range()[1];
    function one(axis, values, size, pos, labels) {
        var g = svg.append("g")
            .attr("transform", pos)
            .call(axis.tickValues(values).tickSize(-size).tickSizeOuter(0).tickPadding(o.padding)
                .tickFormat(labels ? d3.format("") : ""));
        g.select(".domain").remove();
        g.selectAll("line").attr("stroke", "#000").attr("stroke-width", o.tickWidth);
        g.selectAll("text")
            .attr("font-family", o.font)
            .attr("font-weight", o.weight)
            .attr("font-size", o.fontSize)
            .attr("fill", "#000");
    }
    var bottom = `translate(0,${h})`, top = `translate(0,${t})`, left = `translate(${l},0)`, right = `translate(${r},0)`;
    one(d3.axisBottom(x), o.xMinor, o.minor, bottom, false);
    one(d3.axisBottom(x), o.xTicks, o.major, bottom, true);
    one(d3.axisTop(x), o.xMinor, o.minor, top, false);
    one(d3.axisTop(x), o.xTicks, o.major, top, false);
    one(d3.axisLeft(y), o.yMinor, o.minor, left, false);
    one(d3.axisLeft(y), o.yTicks, o.major, left, true);
    one(d3.axisRight(y), o.yMinor, o.minor, right, false);
    one(d3.axisRight(y), o.yTicks, o.major, right, false);
    svg.append("rect")
        .attr("x", l).attr("y", t)
        .attr("width", r - l).attr("height", h - t)
        .attr("fill", "none")
        .attr("stroke", "#000")
        .attr("stroke-width", o.frameWidth);
}

// Main panel
var x = d3.scaleLinear().domain([10.205, -0.205]).range([138, 1153]);
var y = d3.scaleLinear().domain([-11, 0]).range([1032, 17]);

plotStars(svg.append("g"), x, y, greenStars, blueStars, redStars, false);
frame(x, y, {
    xTicks: xTicks, xMinor: xMinor, yTicks: yTicks, yMinor: yMinor,
    major: 23, minor: 11, tickWidth: 1.8, frameWidth: 2.4, padding: 20,
    font: "DejaVu Sans", weight: "normal", fontSize: 31
});

// Y labels sit a little lower than the axis default, so the top one stays on the page
svg.selectAll("text").filter(function() { return this.getAttribute("dy") === "0.32em"; })
    .attr("dy", "0.4em");

// Axis titles
svg.append("text")
    .attr("x", 646).attr("y", 1115)
    .attr("text-anchor", "middle")
    .attr("font-family", "DejaVu Sans Mono")
    .attr("font-size", 29)
    .text("Galactic l");

svg.append("text")
    .attr("transform", "translate(35,525)rotate(-90)")
    .attr("text-anchor", "middle")
    .attr("font-family", "DejaVu Sans Mono")
    .attr("font-size", 29)
    .text("Galactic b");

// Inset panel
var insetX = d3.scaleLinear().domain([16.79, 19.41]).range([216, 397]);
var insetY = d3.scaleLinear().domain([-3.21, -1.19]).range([763, 607]);

plotStars(svg.append("g"), insetX, insetY, insetGreen, insetBlue, insetRed, true);
frame(insetX, insetY, {
    xTicks: insetXTicks, xMinor: insetXMinor, yTicks: insetYTicks, yMinor: insetYMinor,
    major: 14, minor: 7, tickWidth: 2.4, frameWidth: 3.4, padding: 10,
    font: "DejaVu Sans", weight: "bold", fontSize: 19
});

// Legend
var legendRows = [
    {color: "#00ff00", before: "", after: " > \u22120.95", x: 232, y: 921},
    {color: "#0000ff", before: "\u22120.95 < ", after: " > \u22121.6", x: 232, y: 951},
    {color: "#ff0000", before: "", after: " < \u22121.6", x: 241, y: 982}
];

svg.append("path").attr("d", triangle).attr("fill", "#00ff00").attr("transform", "translate(198,910)");
svg.append("circle").attr("cx", 197).attr("cy", 943).attr("r", 5).attr("fill", "#0000ff");
var legendRed = svg.append("g").attr("transform", "translate(197,974)");
legendRed.append("circle").attr("r", 7.3).attr("fill", "none").attr("stroke", "#ff0000").attr("stroke-width", 1.1);
legendRed.append("path").attr("d", d3.symbol(d3.symbolTimes, 75)).attr("stroke", "#ff0000").attr("stroke-width", 1.1);

legendRows.forEach(function(row) {
    var t = svg.append("text")
        .attr("x", row.x).attr("y", row.y)
        .attr("font-family", "Liberation Serif")
        .attr("font-size", 27)
        .attr("fill", row.color)
        .style("white-space", "pre")
        .style("word-spacing", "5px")
        .style("letter-spacing", "1.1px");
    t.append("tspan").text(row.before + "[Fe/H]");
    t.append("tspan")
        .attr("dy", 6)
        .attr("font-family", "DejaVu Sans")
        .attr("font-weight", "bold")
        .attr("font-size", 13)
        .style("letter-spacing", "0px")
        .text("RR0");
    t.append("tspan").attr("dy", -6).text(row.after);
});
</script>
</body>
</html>
